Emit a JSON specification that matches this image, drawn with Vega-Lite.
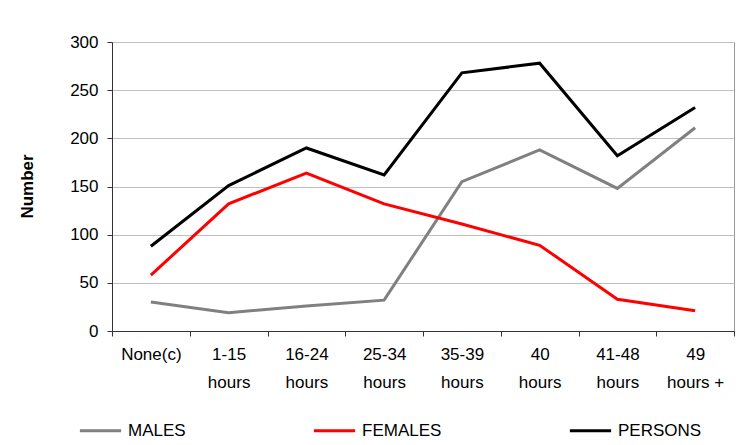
{
  "$schema": "https://vega.github.io/schema/vega-lite/v6.json",
  "width": 622,
  "height": 289,
  "autosize": {"type": "none"},
  "padding": {"left": 112, "top": 42, "right": 15, "bottom": 114},
  "background": "white",
  "config": {
    "font": "Liberation Sans",
    "view": {"stroke": "#999999", "strokeWidth": 1}
  },
  "data": {
    "values": [
      {"hours": "None(c)", "series": "MALES", "number": 30},
      {"hours": "1-15 hours", "series": "MALES", "number": 19},
      {"hours": "16-24 hours", "series": "MALES", "number": 26},
      {"hours": "25-34 hours", "series": "MALES", "number": 32},
      {"hours": "35-39 hours", "series": "MALES", "number": 155},
      {"hours": "40 hours", "series": "MALES", "number": 188},
      {"hours": "41-48 hours", "series": "MALES", "number": 148},
      {"hours": "49 hours +", "series": "MALES", "number": 211},
      {"hours": "None(c)", "series": "FEMALES", "number": 58},
      {"hours": "1-15 hours", "series": "FEMALES", "number": 132},
      {"hours": "16-24 hours", "series": "FEMALES", "number": 164},
      {"hours": "25-34 hours", "series": "FEMALES", "number": 132},
      {"hours": "35-39 hours", "series": "FEMALES", "number": 111},
      {"hours": "40 hours", "series": "FEMALES", "number": 89},
      {"hours": "41-48 hours", "series": "FEMALES", "number": 33},
      {"hours": "49 hours +", "series": "FEMALES", "number": 21},
      {"hours": "None(c)", "series": "PERSONS", "number": 88},
      {"hours": "1-15 hours", "series": "PERSONS", "number": 151},
      {"hours": "16-24 hours", "series": "PERSONS", "number": 190},
      {"hours": "25-34 hours", "series": "PERSONS", "number": 162},
      {"hours": "35-39 hours", "series": "PERSONS", "number": 268},
      {"hours": "40 hours", "series": "PERSONS", "number": 278},
      {"hours": "41-48 hours", "series": "PERSONS", "number": 182},
      {"hours": "49 hours +", "series": "PERSONS", "number": 232}
    ]
  },
  "mark": {"type": "line", "strokeWidth": 3},
  "encoding": {
    "x": {
      "field": "hours",
      "type": "nominal",
      "sort": null,
      "scale": {"type": "band", "paddingInner": 0, "paddingOuter": 0},
      "axis": {
        "orient": "bottom",
        "title": null,
        "labelAngle": 0,
        "tickBand": "extent",
        "grid": false,
        "domainColor": "#333333",
        "tickColor": "#333333",
        "tickSize": 5,
        "labelFont": "Liberation Sans",
        "labelFontSize": 17,
        "labelColor": "black",
        "labelPadding": 10,
        "labelLineHeight": 28,
        "labelExpr": "datum.value == null ? '' : split(replace(datum.value, ' ', '~'), '~')"
      }
    },
    "y": {
      "field": "number",
      "type": "quantitative",
      "scale": {"domain": [0, 300]},
      "axis": {
        "title": "Number",
        "titleFont": "Liberation Sans",
        "titleFontSize": 17,
        "titleFontWeight": "bold",
        "titleColor": "black",
        "titleX": -76,
        "titleY": 144,
        "values": [0, 50, 100, 150, 200, 250, 300],
        "grid": true,
        "gridColor": "#c0c0c0",
        "gridWidth": 1,
        "domainColor": "#333333",
        "tickColor": "#333333",
        "tickSize": 5,
        "labelFont": "Liberation Sans",
        "labelFontSize": 17,
        "labelColor": "black",
        "labelPadding": 9
      }
    },
    "color": {
      "field": "series",
      "type": "nominal",
      "scale": {"domain": ["MALES", "FEMALES", "PERSONS"], "range": ["#808080", "#ff0000", "#000000"]},
      "legend": {
        "title": null,
        "orient": "none",
        "direction": "horizontal",
        "legendX": -34,
        "legendY": 366,
        "symbolType": "stroke",
        "symbolSize": 1700,
        "symbolStrokeWidth": 3,
        "labelFont": "Liberation Sans",
        "labelFontSize": 17,
        "labelColor": "black",
        "labelOffset": 5,
        "columnPadding": 121
      }
    }
  }
}
